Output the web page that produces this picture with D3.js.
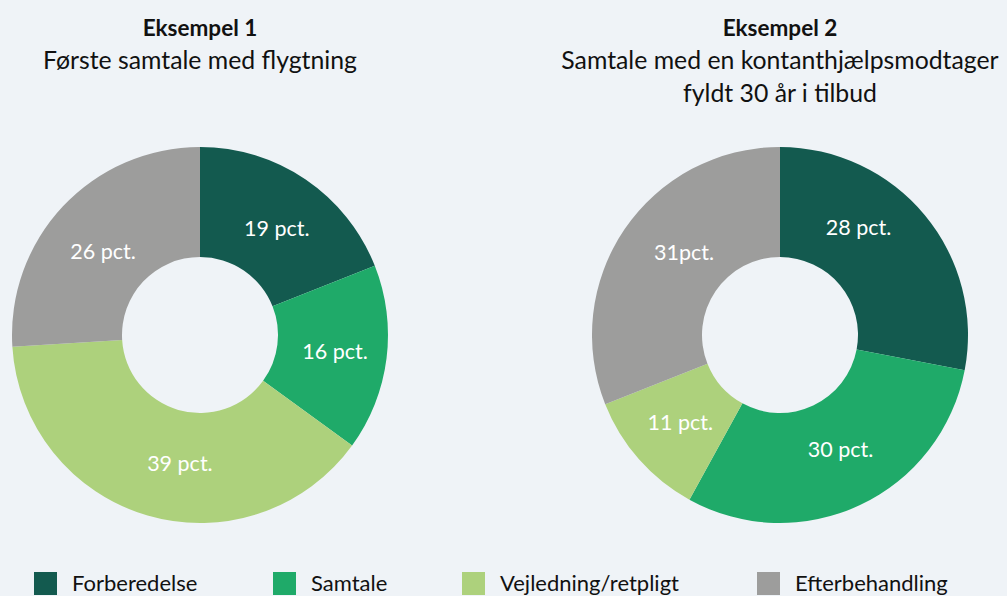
<!DOCTYPE html>
<html>
<head>
<meta charset="utf-8">
<script src="https://cdn.jsdelivr.net/npm/d3@7"></script>
<style>
  body { margin: 0; background: #eff3f7; }
  svg { display: block; font-family: Lato, "Open Sans", sans-serif; }
</style>
</head>
<body>
<div id="chart"></div>
<script>
var categories = ["Forberedelse", "Samtale", "Vejledning/retpligt", "Efterbehandling"];
var colors = ["#135a4f", "#1faa69", "#add17c", "#9d9d9c"];

var values1 = [19, 16, 39, 26];
var labels1 = ["19 pct.", "16 pct.", "39 pct.", "26 pct."];
var values2 = [28, 30, 11, 31];
var labels2 = ["28 pct.", "30 pct.", "11 pct.", "31pct."];

var title1 = ["Eksempel 1", "Første samtale med flygtning"];
var title2 = ["Eksempel 2", "Samtale med en kontanthjælpsmodtager", "fyldt 30 år i tilbud"];

// small label nudges off the slice centroid (layout only)
var nudge1 = [[2, 3], [3, 0], [17, 1], [0, 8]];
var nudge2 = [[-24, -23], [4, -6], [0, 0], [14, -8]];

var width = 1007, height = 596;
var outerR = 188, innerR = 78;

var svg = d3.select("#chart").append("svg")
    .attr("width", width)
    .attr("height", height);

svg.append("rect").attr("width", width).attr("height", height).attr("fill", "#eff3f7");

var pie = d3.pie().sort(null);
var arc = d3.arc().innerRadius(innerR).outerRadius(outerR);

function drawDonut(cx, cy, values, labels, nudge, title) {
    var g = svg.append("g").attr("transform", "translate(" + cx + "," + cy + ")");
    var arcs = pie(values);

    g.selectAll("path")
        .data(arcs)
        .enter().append("path")
        .attr("d", arc)
        .attr("fill", function (d, i) { return colors[i]; });

    g.selectAll(".lbl")
        .data(arcs)
        .enter().append("text")
        .attr("class", "lbl")
        .attr("transform", function (d, i) {
            var c = arc.centroid(d);
            return "translate(" + (c[0] + nudge[i][0]) + "," + (c[1] + nudge[i][1]) + ")";
        })
        .attr("dy", "0.35em")
        .attr("text-anchor", "middle")
        .attr("fill", "#fff")
        .style("font-size", "21.5px")
        .text(function (d, i) { return labels[i]; });

    // titles
    var t = svg.append("g");
    t.selectAll("text")
        .data(title)
        .enter().append("text")
        .attr("x", cx)
        .attr("y", function (d, i) { return 36 + i * 33; })
        .attr("text-anchor", "middle")
        .attr("fill", "#111")
        .style("font-size", function (d, i) { return i == 0 ? "22.5px" : "24.8px"; })
        .style("font-weight", function (d, i) { return i == 0 ? "bold" : "normal"; })
        .text(function (d) { return d; });
}

drawDonut(200, 335, values1, labels1, nudge1, title1);
drawDonut(780, 335, values2, labels2, nudge2, title2);

// legend
var legendX = [34, 273, 462, 757];
var legend = svg.append("g");
var item = legend.selectAll("g")
    .data(categories)
    .enter().append("g")
    .attr("transform", function (d, i) { return "translate(" + legendX[i] + ",572)"; });

item.append("rect")
    .attr("width", 23)
    .attr("height", 23)
    .attr("fill", function (d, i) { return colors[i]; });

item.append("text")
    .attr("x", 38)
    .attr("y", 19)
    .attr("fill", "#111")
    .style("font-size", "22px")
    .text(function (d) { return d; });
</script>
</body>
</html>
